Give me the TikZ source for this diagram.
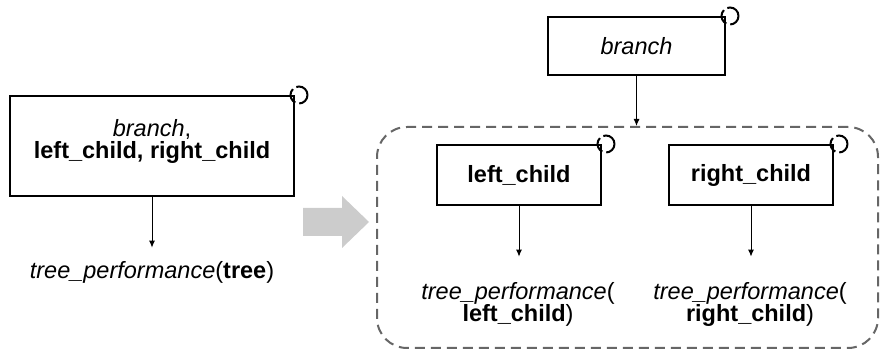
\documentclass[tikz,border=0pt]{standalone}
\usepackage{fontspec}
\setmainfont{Liberation Sans}
\usetikzlibrary{arrows.meta,positioning}
\definecolor{subgray}{HTML}{666666}
\definecolor{movegray}{HTML}{CCCCCC}
\tikzset{
  treebox/.style={rectangle, draw=black, line width=1pt, inner sep=0pt},
  corner/.style={circle, draw=black, line width=1pt, minimum size=8.5pt,
                 inner sep=0pt, dash pattern=on 8pt off 2pt},
  arr/.style={-{Latex[length=3.5pt,width=3pt]}, line width=0.5pt},
  perf/.style={inner sep=0pt, align=center}
}

\begin{document}
\begin{tikzpicture}[x=0.5pt, y=-0.5pt, font=\fontsize{11.75}{11}\selectfont]
  \useasboundingbox (0,0) rectangle (888,351);

  % whole tree (left)
  \node[treebox, minimum width=142pt, minimum height=50pt] (tree) at (152,146) {};
  \node[perf] (treetxt) at (152,141) {\textit{branch},\\\textbf{left\_child, right\_child}};
  \node[corner] (treecorner) at ([xshift=2pt]tree.north east) {};
  \node[perf] (treeperf) at (152,272) {\textit{tree\_performance}(\textbf{tree})};
  \draw[arr, shorten >=6.5pt] (tree.south) -- (treeperf.north);

  % block arrow
  \fill[movegray] (303,208) -- (342,208) -- (342,196) -- (369,222) -- (342,248)
                  -- (342,236) -- (303,236) -- cycle;

  % recursion (right)
  \node[treebox, minimum width=88.5pt, minimum height=29pt] (branch) at (636.5,46) {\textit{branch}};
  \node[corner] (branchcorner) at ([xshift=2pt]branch.north east) {};
  \node[draw=subgray, line width=1pt, dash pattern=on 5pt off 3pt, rounded corners=15pt,
        minimum width=250.5pt, minimum height=110.5pt, inner sep=0pt] (sub) at (627.5,237.5) {};
  \draw[arr] (branch.south) -- (branch.south |- sub.north);

  \node[treebox, minimum width=82pt, minimum height=30pt] (lchild) at (519,175) {\textbf{left\_child}};
  \node[treebox, minimum width=82pt, minimum height=30pt] (rchild) at (751,175) {\textbf{right\_child}};
  \node[corner] (lcorner) at ([xshift=2pt]lchild.north east) {};
  \node[corner] (rcorner) at ([xshift=2.5pt]rchild.north east) {};

  \node[perf] (lperf) at (518,304) {\textit{tree\_performance}(\\\textbf{left\_child})};
  \node[perf] (rperf) at (750,304) {\textit{tree\_performance}(\\\textbf{right\_child})};
  \draw[arr, shorten >=12.5pt] (lchild.south) -- (lchild.south |- lperf.north);
  \draw[arr, shorten >=12.5pt] (rchild.south) -- (rchild.south |- rperf.north);
\end{tikzpicture}
\end{document}
